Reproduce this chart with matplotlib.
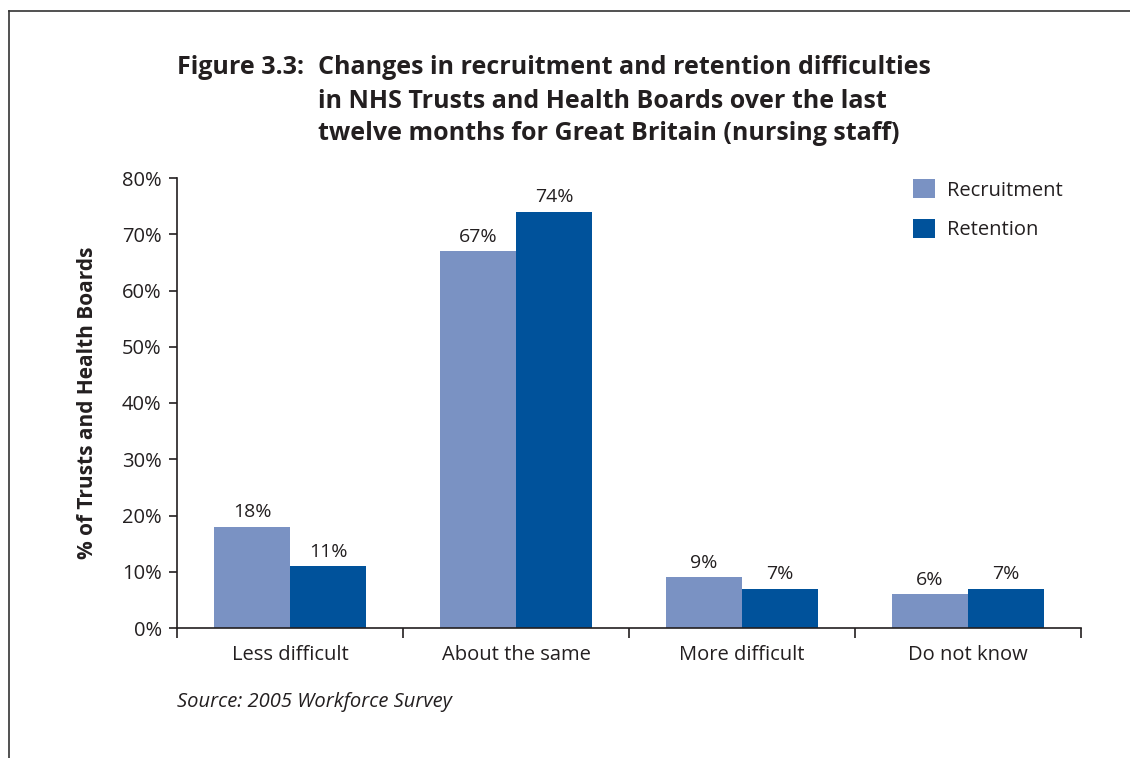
import numpy as np
import matplotlib
matplotlib.use("Agg")
import matplotlib.pyplot as plt
from matplotlib.lines import Line2D

plt.rcParams['font.family'] = ['Open Sans', 'DejaVu Sans']

categories = ["Less difficult", "About the same", "More difficult", "Do not know"]
recruitment = [18, 67, 9, 6]
retention = [11, 74, 7, 7]
yticks = [0, 10, 20, 30, 40, 50, 60, 70, 80]

text_col = '#231f20'
rec_col = '#7a92c3'
ret_col = '#00529b'

W, H = 1130, 758
fig = plt.figure(figsize=(W/100, H/100), dpi=100)
ax = fig.add_axes([177/W, 1 - 628/H, 904/W, 450/H])

x = np.arange(len(categories))
w = 0.336
b1 = ax.bar(x - w/2, recruitment, w, color=rec_col, label='Recruitment')
b2 = ax.bar(x + w/2, retention, w, color=ret_col, label='Retention')

for bars, vals in ((b1, recruitment), (b2, retention)):
    for bar, v in zip(bars, vals):
        ax.annotate(f"{v}%", (bar.get_x() + bar.get_width()/2, v),
                    xytext=(0, 4), textcoords='offset points',
                    ha='center', va='bottom', fontsize=14, color=text_col)

ax.set_xlim(-0.5, len(categories) - 0.5)
ax.set_ylim(0, 80)
ax.set_yticks(yticks)
ax.set_yticklabels([f"{t}%" for t in yticks])
# category labels sit between boundary ticks
ax.set_xticks(np.arange(len(categories) + 1) - 0.5)
ax.set_xticklabels([])
ax.set_xticks(x, minor=True)
ax.set_xticklabels(categories, minor=True)
ax.tick_params(axis='x', which='minor', length=0, pad=12, labelsize=14.5, labelcolor=text_col)
ax.tick_params(axis='x', which='major', length=7, width=1.2, color=text_col)
ax.tick_params(axis='y', length=6, width=1.2, color=text_col, labelsize=14.5,
               labelcolor=text_col, pad=5)

for s in ('top', 'right'):
    ax.spines[s].set_visible(False)
for s in ('left', 'bottom'):
    ax.spines[s].set_color(text_col)
    ax.spines[s].set_linewidth(1.2)

ax.set_ylabel('% of Trusts and Health Boards', fontsize=15, fontweight='bold',
              color=text_col)
ax.yaxis.set_label_coords((98 - 177)/904, 0.5)

ax.legend(loc='upper left', bbox_to_anchor=(913/W, 1 - 179/H),
          bbox_transform=fig.transFigure, frameon=False, borderpad=0, borderaxespad=0,
          fontsize=14.5, handlelength=1.1, handleheight=1.1, labelspacing=0.9,
          handletextpad=0.6, labelcolor=text_col)

# title with hanging indent
fig.text(177/W, 1 - 68/H, 'Figure 3.3:', fontsize=18, fontweight='bold',
         color=text_col, va='center', ha='left')
title_lines = ["Changes in recruitment and retention difficulties",
               "in NHS Trusts and Health Boards over the last",
               "twelve months for Great Britain (nursing staff)"]
for i, line in enumerate(title_lines):
    fig.text(318/W, 1 - (68 + 33*i)/H, line, fontsize=18, fontweight='bold',
             color=text_col, va='center', ha='left')

fig.text(177/W, 1 - 702/H, 'Source: 2005 Workforce Survey', fontsize=14.5,
         style='italic', color=text_col, va='center', ha='left')

# page frame
fig.add_artist(Line2D([9/W, 9/W], [0, 1 - 11/H], color='#333333', lw=1.2,
                      transform=fig.transFigure))
fig.add_artist(Line2D([9/W, 1], [1 - 11/H, 1 - 11/H], color='#333333', lw=1.2,
                      transform=fig.transFigure))

fig.savefig('out.png', dpi=100)
